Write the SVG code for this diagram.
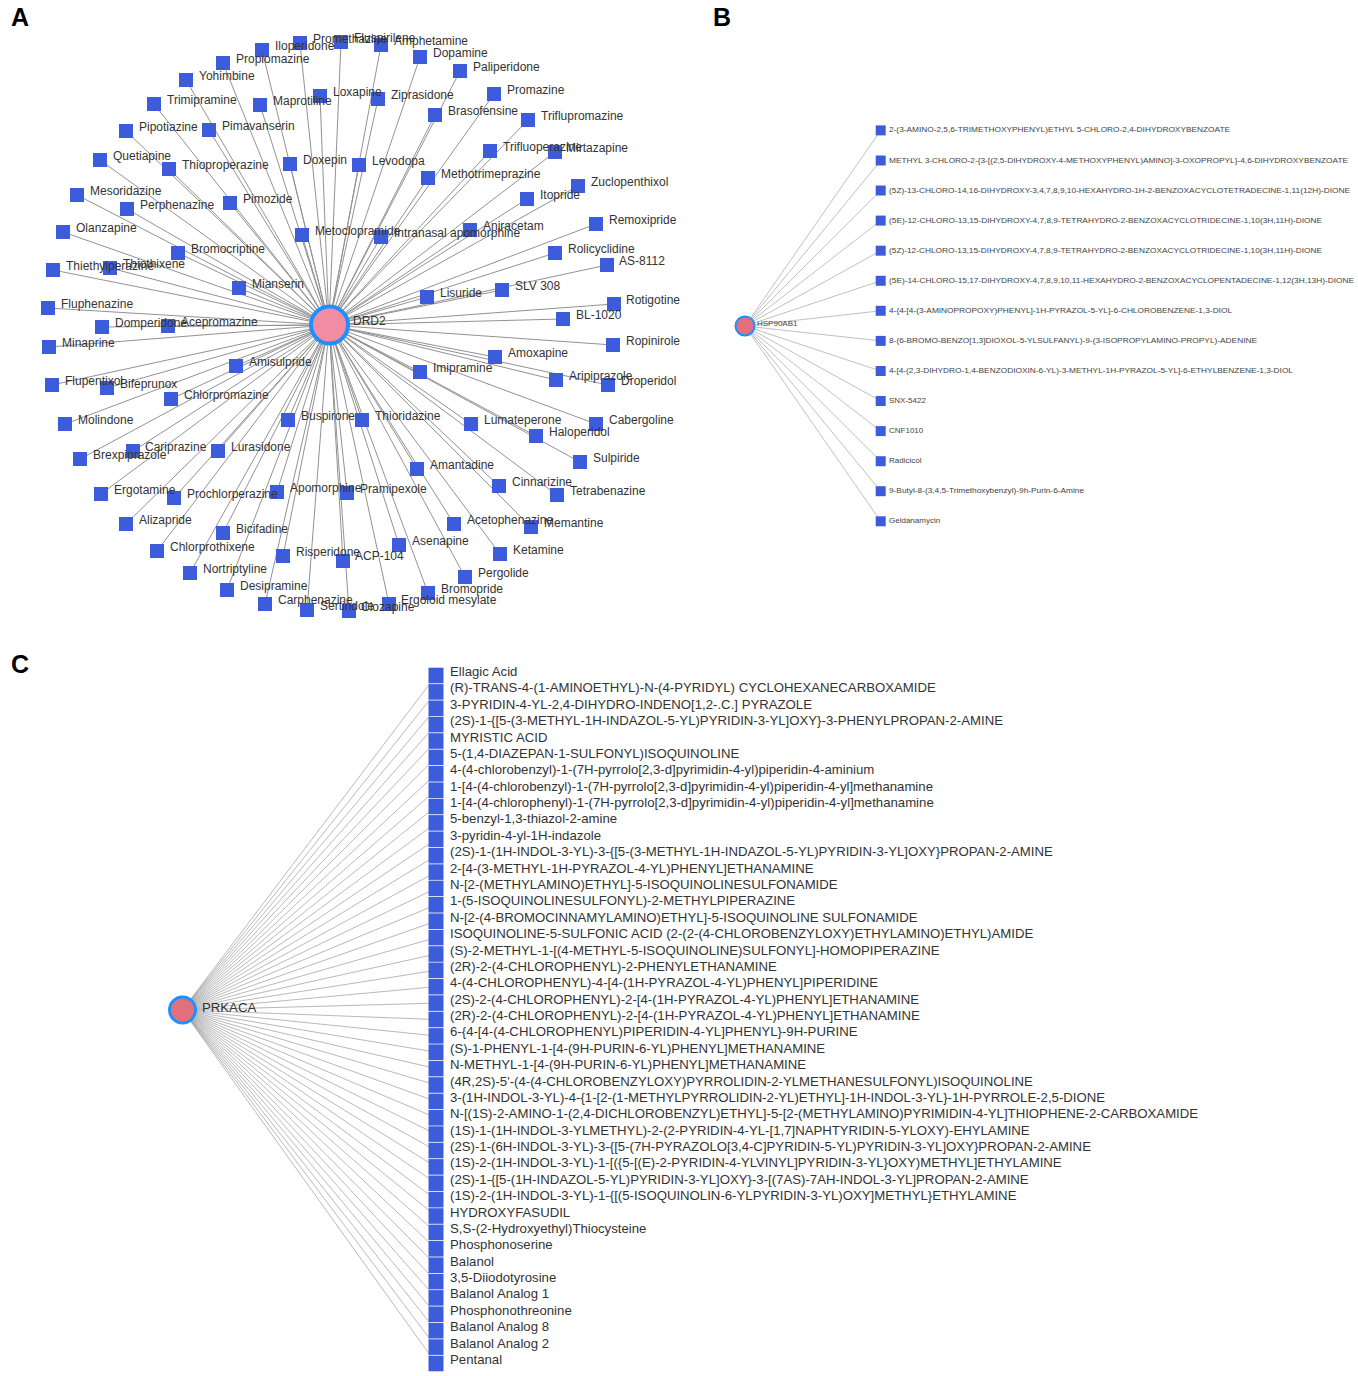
<svg xmlns="http://www.w3.org/2000/svg" width="1358" height="1376" viewBox="0 0 1358 1376">
<style>
text{font-family:"Liberation Sans",Arial,sans-serif;}
.pl{font-size:25px;font-weight:bold;fill:#000;}
.sq{fill:#3d5cdb;}
.la{font-size:12px;fill:#333;transform:translateY(-1.5px);}
.lb{font-size:8px;fill:#444;}
.lc{font-size:13.2px;fill:#333;}
.ea line{stroke:#929292;stroke-width:1;}
.eb line{stroke:#b0b0b0;stroke-width:0.8;}
.ec line{stroke:#8a8a8a;stroke-width:0.6;}
.hub1{fill:#f28ca2;stroke:#1e8fff;stroke-width:4;}
.hub2{fill:#e2707b;stroke:#1e8fff;stroke-width:2;}
.hub3{fill:#e2707b;stroke:#1e8fff;stroke-width:3;}
</style>
<rect width="1358" height="1376" fill="#fff"/>
<text class="pl" x="11" y="26">A</text>
<text class="pl" x="713" y="26">B</text>
<text class="pl" x="11" y="673">C</text>

<g id="connectors">
<g class="ea">
<line x1="329" y1="325" x2="262" y2="50"/><line x1="329" y1="325" x2="300" y2="43"/><line x1="329" y1="325" x2="341" y2="42"/><line x1="329" y1="325" x2="381" y2="45"/><line x1="329" y1="325" x2="420" y2="57"/><line x1="329" y1="325" x2="460" y2="71"/><line x1="329" y1="325" x2="494" y2="94"/><line x1="329" y1="325" x2="528" y2="120"/><line x1="329" y1="325" x2="435" y2="115"/><line x1="329" y1="325" x2="378" y2="99"/><line x1="329" y1="325" x2="320" y2="96"/><line x1="329" y1="325" x2="260" y2="105"/><line x1="329" y1="325" x2="223" y2="63"/><line x1="329" y1="325" x2="186" y2="80"/><line x1="329" y1="325" x2="154" y2="104"/><line x1="329" y1="325" x2="126" y2="131"/><line x1="329" y1="325" x2="209" y2="130"/><line x1="329" y1="325" x2="100" y2="160"/><line x1="329" y1="325" x2="169" y2="169"/><line x1="329" y1="325" x2="290" y2="164"/><line x1="329" y1="325" x2="359" y2="165"/><line x1="329" y1="325" x2="77" y2="195"/><line x1="329" y1="325" x2="127" y2="209"/><line x1="329" y1="325" x2="230" y2="203"/><line x1="329" y1="325" x2="490" y2="151"/><line x1="329" y1="325" x2="555" y2="152"/><line x1="329" y1="325" x2="428" y2="178"/><line x1="329" y1="325" x2="578" y2="186"/><line x1="329" y1="325" x2="527" y2="199"/><line x1="329" y1="325" x2="596" y2="224"/><line x1="329" y1="325" x2="63" y2="232"/><line x1="329" y1="325" x2="302" y2="235"/><line x1="329" y1="325" x2="178" y2="253"/><line x1="329" y1="325" x2="53" y2="270"/><line x1="329" y1="325" x2="110" y2="268"/><line x1="329" y1="325" x2="239" y2="288"/><line x1="329" y1="325" x2="48" y2="308"/><line x1="329" y1="325" x2="102" y2="327"/><line x1="329" y1="325" x2="168" y2="326"/><line x1="329" y1="325" x2="49" y2="347"/><line x1="329" y1="325" x2="236" y2="366"/><line x1="329" y1="325" x2="52" y2="385"/><line x1="329" y1="325" x2="107" y2="388"/><line x1="329" y1="325" x2="171" y2="399"/><line x1="329" y1="325" x2="65" y2="424"/><line x1="329" y1="325" x2="288" y2="420"/><line x1="329" y1="325" x2="362" y2="420"/><line x1="329" y1="325" x2="381" y2="237"/><line x1="329" y1="325" x2="470" y2="230"/><line x1="329" y1="325" x2="555" y2="253"/><line x1="329" y1="325" x2="607" y2="265"/><line x1="329" y1="325" x2="502" y2="290"/><line x1="329" y1="325" x2="427" y2="297"/><line x1="329" y1="325" x2="614" y2="304"/><line x1="329" y1="325" x2="563" y2="319"/><line x1="329" y1="325" x2="613" y2="345"/><line x1="329" y1="325" x2="495" y2="357"/><line x1="329" y1="325" x2="420" y2="372"/><line x1="329" y1="325" x2="556" y2="380"/><line x1="329" y1="325" x2="608" y2="385"/><line x1="329" y1="325" x2="471" y2="424"/><line x1="329" y1="325" x2="596" y2="424"/><line x1="329" y1="325" x2="536" y2="436"/><line x1="329" y1="325" x2="580" y2="462"/><line x1="329" y1="325" x2="417" y2="469"/><line x1="329" y1="325" x2="499" y2="486"/><line x1="329" y1="325" x2="557" y2="495"/><line x1="329" y1="325" x2="454" y2="524"/><line x1="329" y1="325" x2="531" y2="527"/><line x1="329" y1="325" x2="399" y2="545"/><line x1="329" y1="325" x2="343" y2="561"/><line x1="329" y1="325" x2="500" y2="554"/><line x1="329" y1="325" x2="465" y2="577"/><line x1="329" y1="325" x2="428" y2="593"/><line x1="329" y1="325" x2="389" y2="604"/><line x1="329" y1="325" x2="349" y2="611"/><line x1="329" y1="325" x2="133" y2="451"/><line x1="329" y1="325" x2="218" y2="451"/><line x1="329" y1="325" x2="80" y2="459"/><line x1="329" y1="325" x2="101" y2="494"/><line x1="329" y1="325" x2="174" y2="498"/><line x1="329" y1="325" x2="277" y2="492"/><line x1="329" y1="325" x2="347" y2="493"/><line x1="329" y1="325" x2="126" y2="524"/><line x1="329" y1="325" x2="223" y2="533"/><line x1="329" y1="325" x2="157" y2="551"/><line x1="329" y1="325" x2="283" y2="556"/><line x1="329" y1="325" x2="190" y2="573"/><line x1="329" y1="325" x2="227" y2="590"/><line x1="329" y1="325" x2="265" y2="604"/><line x1="329" y1="325" x2="307" y2="610"/>
</g>
<g class="eb">
<line x1="745" y1="326" x2="880.7" y2="130.4"/><line x1="745" y1="326" x2="880.7" y2="160.5"/><line x1="745" y1="326" x2="880.7" y2="190.5"/><line x1="745" y1="326" x2="880.7" y2="220.6"/><line x1="745" y1="326" x2="880.7" y2="250.7"/><line x1="745" y1="326" x2="880.7" y2="280.8"/><line x1="745" y1="326" x2="880.7" y2="310.8"/><line x1="745" y1="326" x2="880.7" y2="340.9"/><line x1="745" y1="326" x2="880.7" y2="371"/><line x1="745" y1="326" x2="880.7" y2="401"/><line x1="745" y1="326" x2="880.7" y2="431.1"/><line x1="745" y1="326" x2="880.7" y2="461.2"/><line x1="745" y1="326" x2="880.7" y2="491.2"/><line x1="745" y1="326" x2="880.7" y2="521.3"/>
</g>
<g class="ec">
<line x1="182.5" y1="1010" x2="436" y2="675.5"/><line x1="182.5" y1="1010" x2="436" y2="691.9"/><line x1="182.5" y1="1010" x2="436" y2="708.3"/><line x1="182.5" y1="1010" x2="436" y2="724.6"/><line x1="182.5" y1="1010" x2="436" y2="741"/><line x1="182.5" y1="1010" x2="436" y2="757.4"/><line x1="182.5" y1="1010" x2="436" y2="773.8"/><line x1="182.5" y1="1010" x2="436" y2="790.2"/><line x1="182.5" y1="1010" x2="436" y2="806.5"/><line x1="182.5" y1="1010" x2="436" y2="822.9"/><line x1="182.5" y1="1010" x2="436" y2="839.3"/><line x1="182.5" y1="1010" x2="436" y2="855.7"/><line x1="182.5" y1="1010" x2="436" y2="872.1"/><line x1="182.5" y1="1010" x2="436" y2="888.4"/><line x1="182.5" y1="1010" x2="436" y2="904.8"/><line x1="182.5" y1="1010" x2="436" y2="921.2"/><line x1="182.5" y1="1010" x2="436" y2="937.6"/><line x1="182.5" y1="1010" x2="436" y2="954"/><line x1="182.5" y1="1010" x2="436" y2="970.3"/><line x1="182.5" y1="1010" x2="436" y2="986.7"/><line x1="182.5" y1="1010" x2="436" y2="1003.1"/><line x1="182.5" y1="1010" x2="436" y2="1019.5"/><line x1="182.5" y1="1010" x2="436" y2="1035.9"/><line x1="182.5" y1="1010" x2="436" y2="1052.2"/><line x1="182.5" y1="1010" x2="436" y2="1068.6"/><line x1="182.5" y1="1010" x2="436" y2="1085"/><line x1="182.5" y1="1010" x2="436" y2="1101.4"/><line x1="182.5" y1="1010" x2="436" y2="1117.8"/><line x1="182.5" y1="1010" x2="436" y2="1134.1"/><line x1="182.5" y1="1010" x2="436" y2="1150.5"/><line x1="182.5" y1="1010" x2="436" y2="1166.9"/><line x1="182.5" y1="1010" x2="436" y2="1183.3"/><line x1="182.5" y1="1010" x2="436" y2="1199.7"/><line x1="182.5" y1="1010" x2="436" y2="1216"/><line x1="182.5" y1="1010" x2="436" y2="1232.4"/><line x1="182.5" y1="1010" x2="436" y2="1248.8"/><line x1="182.5" y1="1010" x2="436" y2="1265.2"/><line x1="182.5" y1="1010" x2="436" y2="1281.6"/><line x1="182.5" y1="1010" x2="436" y2="1297.9"/><line x1="182.5" y1="1010" x2="436" y2="1314.3"/><line x1="182.5" y1="1010" x2="436" y2="1330.7"/><line x1="182.5" y1="1010" x2="436" y2="1347.1"/><line x1="182.5" y1="1010" x2="436" y2="1363.5"/>
</g>
</g>

<g id="panelA">
<g id="a-rotigotine"><rect class="sq" x="607" y="297" width="14" height="14"/><text class="la" x="626" y="305.5">Rotigotine</text></g>
<g id="a-ropinirole"><rect class="sq" x="606" y="338" width="14" height="14"/><text class="la" x="626" y="346.5">Ropinirole</text></g>
<g id="a-droperidol"><rect class="sq" x="601" y="378" width="14" height="14"/><text class="la" x="621" y="386.5">Droperidol</text></g>
<g id="a-as-8112"><rect class="sq" x="600" y="258" width="14" height="14"/><text class="la" x="619" y="266.5">AS-8112</text></g>
<g id="a-remoxipride"><rect class="sq" x="589" y="217" width="14" height="14"/><text class="la" x="609" y="225.5">Remoxipride</text></g>
<g id="a-cabergoline"><rect class="sq" x="589" y="417" width="14" height="14"/><text class="la" x="609" y="425.5">Cabergoline</text></g>
<g id="a-sulpiride"><rect class="sq" x="573" y="455" width="14" height="14"/><text class="la" x="593" y="463.5">Sulpiride</text></g>
<g id="a-zuclopenthixol"><rect class="sq" x="571" y="179" width="14" height="14"/><text class="la" x="591" y="187.5">Zuclopenthixol</text></g>
<g id="a-bl-1020"><rect class="sq" x="556" y="312" width="14" height="14"/><text class="la" x="576" y="320.5">BL-1020</text></g>
<g id="a-tetrabenazine"><rect class="sq" x="550" y="488" width="14" height="14"/><text class="la" x="570" y="496.5">Tetrabenazine</text></g>
<g id="a-aripiprazole"><rect class="sq" x="549" y="373" width="14" height="14"/><text class="la" x="569" y="381.5">Aripiprazole</text></g>
<g id="a-mirtazapine"><rect class="sq" x="548" y="145" width="14" height="14"/><text class="la" x="566" y="153.5">Mirtazapine</text></g>
<g id="a-rolicyclidine"><rect class="sq" x="548" y="246" width="14" height="14"/><text class="la" x="568" y="254.5">Rolicyclidine</text></g>
<g id="a-haloperidol"><rect class="sq" x="529" y="429" width="14" height="14"/><text class="la" x="549" y="437.5">Haloperidol</text></g>
<g id="a-memantine"><rect class="sq" x="524" y="520" width="14" height="14"/><text class="la" x="544" y="528.5">Memantine</text></g>
<g id="a-triflupromazine"><rect class="sq" x="521" y="113" width="14" height="14"/><text class="la" x="541" y="121.5">Triflupromazine</text></g>
<g id="a-itopride"><rect class="sq" x="520" y="192" width="14" height="14"/><text class="la" x="540" y="200.5">Itopride</text></g>
<g id="a-slv-308"><rect class="sq" x="495" y="283" width="14" height="14"/><text class="la" x="515" y="291.5">SLV 308</text></g>
<g id="a-ketamine"><rect class="sq" x="493" y="547" width="14" height="14"/><text class="la" x="513" y="555.5">Ketamine</text></g>
<g id="a-cinnarizine"><rect class="sq" x="492" y="479" width="14" height="14"/><text class="la" x="512" y="487.5">Cinnarizine</text></g>
<g id="a-amoxapine"><rect class="sq" x="488" y="350" width="14" height="14"/><text class="la" x="508" y="358.5">Amoxapine</text></g>
<g id="a-promazine"><rect class="sq" x="487" y="87" width="14" height="14"/><text class="la" x="507" y="95.5">Promazine</text></g>
<g id="a-trifluoperazine"><rect class="sq" x="483" y="144" width="14" height="14"/><text class="la" x="503" y="152.5">Trifluoperazine</text></g>
<g id="a-lumateperone"><rect class="sq" x="464" y="417" width="14" height="14"/><text class="la" x="484" y="425.5">Lumateperone</text></g>
<g id="a-aniracetam"><rect class="sq" x="463" y="223" width="14" height="14"/><text class="la" x="483" y="231.5">Aniracetam</text></g>
<g id="a-pergolide"><rect class="sq" x="458" y="570" width="14" height="14"/><text class="la" x="478" y="578.5">Pergolide</text></g>
<g id="a-paliperidone"><rect class="sq" x="453" y="64" width="14" height="14"/><text class="la" x="473" y="72.5">Paliperidone</text></g>
<g id="a-acetophenazine"><rect class="sq" x="447" y="517" width="14" height="14"/><text class="la" x="467" y="525.5">Acetophenazine</text></g>
<g id="a-brasofensine"><rect class="sq" x="428" y="108" width="14" height="14"/><text class="la" x="448" y="116.5">Brasofensine</text></g>
<g id="a-methotrimeprazine"><rect class="sq" x="421" y="171" width="14" height="14"/><text class="la" x="441" y="179.5">Methotrimeprazine</text></g>
<g id="a-bromopride"><rect class="sq" x="421" y="586" width="14" height="14"/><text class="la" x="441" y="594.5">Bromopride</text></g>
<g id="a-lisuride"><rect class="sq" x="420" y="290" width="14" height="14"/><text class="la" x="440" y="298.5">Lisuride</text></g>
<g id="a-dopamine"><rect class="sq" x="413" y="50" width="14" height="14"/><text class="la" x="433" y="58.5">Dopamine</text></g>
<g id="a-imipramine"><rect class="sq" x="413" y="365" width="14" height="14"/><text class="la" x="433" y="373.5">Imipramine</text></g>
<g id="a-amantadine"><rect class="sq" x="410" y="462" width="14" height="14"/><text class="la" x="430" y="470.5">Amantadine</text></g>
<g id="a-asenapine"><rect class="sq" x="392" y="538" width="14" height="14"/><text class="la" x="412" y="546.5">Asenapine</text></g>
<g id="a-ergoloid-mesylate"><rect class="sq" x="382" y="597" width="14" height="14"/><text class="la" x="401" y="605.5">Ergoloid mesylate</text></g>
<g id="a-amphetamine"><rect class="sq" x="374" y="38" width="14" height="14"/><text class="la" x="394" y="46.5">Amphetamine</text></g>
<g id="a-intranasal-apomorphine"><rect class="sq" x="374" y="230" width="14" height="14"/><text class="la" x="394" y="238.5">Intranasal apomorphine</text></g>
<g id="a-ziprasidone"><rect class="sq" x="371" y="92" width="14" height="14"/><text class="la" x="391" y="100.5">Ziprasidone</text></g>
<g id="a-thioridazine"><rect class="sq" x="355" y="413" width="14" height="14"/><text class="la" x="375" y="421.5">Thioridazine</text></g>
<g id="a-levodopa"><rect class="sq" x="352" y="158" width="14" height="14"/><text class="la" x="372" y="166.5">Levodopa</text></g>
<g id="a-clozapine"><rect class="sq" x="342" y="604" width="14" height="14"/><text class="la" x="361" y="612.5">Clozapine</text></g>
<g id="a-pramipexole"><rect class="sq" x="340" y="486" width="14" height="14"/><text class="la" x="360" y="494.5">Pramipexole</text></g>
<g id="a-acp-104"><rect class="sq" x="336" y="554" width="14" height="14"/><text class="la" x="355" y="561">ACP-104</text></g>
<g id="a-fluspirilene"><rect class="sq" x="334" y="35" width="14" height="14"/><text class="la" x="354" y="43.5">Fluspirilene</text></g>
<g id="a-drd2"><circle class="hub1" cx="329.5" cy="325" r="18.5"/><text class="la" x="353" y="326.5">DRD2</text></g>
<g id="a-loxapine"><rect class="sq" x="313" y="89" width="14" height="14"/><text class="la" x="333" y="97.5">Loxapine</text></g>
<g id="a-sertindole"><rect class="sq" x="300" y="603" width="14" height="14"/><text class="la" x="320" y="611.5">Sertindole</text></g>
<g id="a-metoclopramide"><rect class="sq" x="295" y="228" width="14" height="14"/><text class="la" x="315" y="236.5">Metoclopramide</text></g>
<g id="a-promethazine"><rect class="sq" x="293" y="36" width="14" height="14"/><text class="la" x="313" y="44.5">Promethazine</text></g>
<g id="a-doxepin"><rect class="sq" x="283" y="157" width="14" height="14"/><text class="la" x="303" y="165.5">Doxepin</text></g>
<g id="a-buspirone"><rect class="sq" x="281" y="413" width="14" height="14"/><text class="la" x="301" y="421.5">Buspirone</text></g>
<g id="a-risperidone"><rect class="sq" x="276" y="549" width="14" height="14"/><text class="la" x="296" y="557.5">Risperidone</text></g>
<g id="a-apomorphine"><rect class="sq" x="270" y="485" width="14" height="14"/><text class="la" x="290" y="493.5">Apomorphine</text></g>
<g id="a-carphenazine"><rect class="sq" x="258" y="597" width="14" height="14"/><text class="la" x="278" y="605.5">Carphenazine</text></g>
<g id="a-iloperidone"><rect class="sq" x="255" y="43" width="14" height="14"/><text class="la" x="275" y="51.5">Iloperidone</text></g>
<g id="a-maprotiline"><rect class="sq" x="253" y="98" width="14" height="14"/><text class="la" x="273" y="106.5">Maprotiline</text></g>
<g id="a-mianserin"><rect class="sq" x="232" y="281" width="14" height="14"/><text class="la" x="252" y="289.5">Mianserin</text></g>
<g id="a-amisulpride"><rect class="sq" x="229" y="359" width="14" height="14"/><text class="la" x="249" y="367.5">Amisulpride</text></g>
<g id="a-pimozide"><rect class="sq" x="223" y="196" width="14" height="14"/><text class="la" x="243" y="204.5">Pimozide</text></g>
<g id="a-desipramine"><rect class="sq" x="220" y="583" width="14" height="14"/><text class="la" x="240" y="591.5">Desipramine</text></g>
<g id="a-propiomazine"><rect class="sq" x="216" y="56" width="14" height="14"/><text class="la" x="236" y="64.5">Propiomazine</text></g>
<g id="a-bicifadine"><rect class="sq" x="216" y="526" width="14" height="14"/><text class="la" x="236" y="534.5">Bicifadine</text></g>
<g id="a-lurasidone"><rect class="sq" x="211" y="444" width="14" height="14"/><text class="la" x="231" y="452.5">Lurasidone</text></g>
<g id="a-pimavanserin"><rect class="sq" x="202" y="123" width="14" height="14"/><text class="la" x="222" y="131.5">Pimavanserin</text></g>
<g id="a-nortriptyline"><rect class="sq" x="183" y="566" width="14" height="14"/><text class="la" x="203" y="574.5">Nortriptyline</text></g>
<g id="a-yohimbine"><rect class="sq" x="179" y="73" width="14" height="14"/><text class="la" x="199" y="81.5">Yohimbine</text></g>
<g id="a-bromocriptine"><rect class="sq" x="171" y="246" width="14" height="14"/><text class="la" x="191" y="254.5">Bromocriptine</text></g>
<g id="a-prochlorperazine"><rect class="sq" x="167" y="491" width="14" height="14"/><text class="la" x="187" y="499.5">Prochlorperazine</text></g>
<g id="a-chlorpromazine"><rect class="sq" x="164" y="392" width="14" height="14"/><text class="la" x="184" y="400.5">Chlorpromazine</text></g>
<g id="a-thioproperazine"><rect class="sq" x="162" y="162" width="14" height="14"/><text class="la" x="182" y="170.5">Thioproperazine</text></g>
<g id="a-acepromazine"><rect class="sq" x="161" y="319" width="14" height="14"/><text class="la" x="181" y="327.5">Acepromazine</text></g>
<g id="a-chlorprothixene"><rect class="sq" x="150" y="544" width="14" height="14"/><text class="la" x="170" y="552.5">Chlorprothixene</text></g>
<g id="a-trimipramine"><rect class="sq" x="147" y="97" width="14" height="14"/><text class="la" x="167" y="105.5">Trimipramine</text></g>
<g id="a-cariprazine"><rect class="sq" x="126" y="444" width="14" height="14"/><text class="la" x="145" y="452.5">Cariprazine</text></g>
<g id="a-perphenazine"><rect class="sq" x="120" y="202" width="14" height="14"/><text class="la" x="140" y="210.5">Perphenazine</text></g>
<g id="a-pipotiazine"><rect class="sq" x="119" y="124" width="14" height="14"/><text class="la" x="139" y="132.5">Pipotiazine</text></g>
<g id="a-alizapride"><rect class="sq" x="119" y="517" width="14" height="14"/><text class="la" x="139" y="525.5">Alizapride</text></g>
<g id="a-thiothixene"><rect class="sq" x="103" y="261" width="14" height="14"/><text class="la" x="123" y="269.5">Thiothixene</text></g>
<g id="a-bifeprunox"><rect class="sq" x="100" y="381" width="14" height="14"/><text class="la" x="120" y="389.5">Bifeprunox</text></g>
<g id="a-domperidone"><rect class="sq" x="95" y="320" width="14" height="14"/><text class="la" x="115" y="328.5">Domperidone</text></g>
<g id="a-ergotamine"><rect class="sq" x="94" y="487" width="14" height="14"/><text class="la" x="114" y="495.5">Ergotamine</text></g>
<g id="a-quetiapine"><rect class="sq" x="93" y="153" width="14" height="14"/><text class="la" x="113" y="161.5">Quetiapine</text></g>
<g id="a-brexpiprazole"><rect class="sq" x="73" y="452" width="14" height="14"/><text class="la" x="93" y="460.5">Brexpiprazole</text></g>
<g id="a-mesoridazine"><rect class="sq" x="70" y="188" width="14" height="14"/><text class="la" x="90" y="196.5">Mesoridazine</text></g>
<g id="a-molindone"><rect class="sq" x="58" y="417" width="14" height="14"/><text class="la" x="78" y="425.5">Molindone</text></g>
<g id="a-olanzapine"><rect class="sq" x="56" y="225" width="14" height="14"/><text class="la" x="76" y="233.5">Olanzapine</text></g>
<g id="a-thiethylperazine"><rect class="sq" x="46" y="263" width="14" height="14"/><text class="la" x="66" y="271.5">Thiethylperazine</text></g>
<g id="a-flupentixol"><rect class="sq" x="45" y="378" width="14" height="14"/><text class="la" x="65" y="386.5">Flupentixol</text></g>
<g id="a-minaprine"><rect class="sq" x="42" y="340" width="14" height="14"/><text class="la" x="62" y="348.5">Minaprine</text></g>
<g id="a-fluphenazine"><rect class="sq" x="41" y="301" width="14" height="14"/><text class="la" x="61" y="309.5">Fluphenazine</text></g>
</g>

<g id="panelB">
<g id="b-hsp90ab1"><circle class="hub2" cx="745" cy="326" r="9.5"/><text class="lb" x="757" y="326">HSP90AB1</text></g>
<g id="b-1"><rect class="sq" x="875.7" y="125.4" width="10" height="10"/><text class="lb" x="889" y="132.4" textLength="341" lengthAdjust="spacingAndGlyphs">2-(3-AMINO-2,5,6-TRIMETHOXYPHENYL)ETHYL 5-CHLORO-2,4-DIHYDROXYBENZOATE</text></g>
<g id="b-2"><rect class="sq" x="875.7" y="155.5" width="10" height="10"/><text class="lb" x="889" y="162.5" textLength="459" lengthAdjust="spacingAndGlyphs">METHYL 3-CHLORO-2-{3-[(2,5-DIHYDROXY-4-METHOXYPHENYL)AMINO]-3-OXOPROPYL}-4,6-DIHYDROXYBENZOATE</text></g>
<g id="b-3"><rect class="sq" x="875.7" y="185.5" width="10" height="10"/><text class="lb" x="889" y="192.5" textLength="461" lengthAdjust="spacingAndGlyphs">(5Z)-13-CHLORO-14,16-DIHYDROXY-3,4,7,8,9,10-HEXAHYDRO-1H-2-BENZOXACYCLOTETRADECINE-1,11(12H)-DIONE</text></g>
<g id="b-4"><rect class="sq" x="875.7" y="215.6" width="10" height="10"/><text class="lb" x="889" y="222.6" textLength="433" lengthAdjust="spacingAndGlyphs">(5E)-12-CHLORO-13,15-DIHYDROXY-4,7,8,9-TETRAHYDRO-2-BENZOXACYCLOTRIDECINE-1,10(3H,11H)-DIONE</text></g>
<g id="b-5"><rect class="sq" x="875.7" y="245.7" width="10" height="10"/><text class="lb" x="889" y="252.7" textLength="433" lengthAdjust="spacingAndGlyphs">(5Z)-12-CHLORO-13,15-DIHYDROXY-4,7,8,9-TETRAHYDRO-2-BENZOXACYCLOTRIDECINE-1,10(3H,11H)-DIONE</text></g>
<g id="b-6"><rect class="sq" x="875.7" y="275.8" width="10" height="10"/><text class="lb" x="889" y="282.8" textLength="465" lengthAdjust="spacingAndGlyphs">(5E)-14-CHLORO-15,17-DIHYDROXY-4,7,8,9,10,11-HEXAHYDRO-2-BENZOXACYCLOPENTADECINE-1,12(3H,13H)-DIONE</text></g>
<g id="b-7"><rect class="sq" x="875.7" y="305.8" width="10" height="10"/><text class="lb" x="889" y="312.8" textLength="343" lengthAdjust="spacingAndGlyphs">4-{4-[4-(3-AMINOPROPOXY)PHENYL]-1H-PYRAZOL-5-YL}-6-CHLOROBENZENE-1,3-DIOL</text></g>
<g id="b-8"><rect class="sq" x="875.7" y="335.9" width="10" height="10"/><text class="lb" x="889" y="342.9" textLength="368" lengthAdjust="spacingAndGlyphs">8-(6-BROMO-BENZO[1,3]DIOXOL-5-YLSULFANYL)-9-(3-ISOPROPYLAMINO-PROPYL)-ADENINE</text></g>
<g id="b-9"><rect class="sq" x="875.7" y="366" width="10" height="10"/><text class="lb" x="889" y="373" textLength="404" lengthAdjust="spacingAndGlyphs">4-[4-(2,3-DIHYDRO-1,4-BENZODIOXIN-6-YL)-3-METHYL-1H-PYRAZOL-5-YL]-6-ETHYLBENZENE-1,3-DIOL</text></g>
<g id="b-10"><rect class="sq" x="875.7" y="396" width="10" height="10"/><text class="lb" x="889" y="403">SNX-5422</text></g>
<g id="b-11"><rect class="sq" x="875.7" y="426.1" width="10" height="10"/><text class="lb" x="889" y="433.1">CNF1010</text></g>
<g id="b-12"><rect class="sq" x="875.7" y="456.2" width="10" height="10"/><text class="lb" x="889" y="463.2">Radicicol</text></g>
<g id="b-13"><rect class="sq" x="875.7" y="486.2" width="10" height="10"/><text class="lb" x="889" y="493.2" textLength="195" lengthAdjust="spacingAndGlyphs">9-Butyl-8-(3,4,5-Trimethoxybenzyl)-9h-Purin-6-Amine</text></g>
<g id="b-14"><rect class="sq" x="875.7" y="516.3" width="10" height="10"/><text class="lb" x="889" y="523.3">Geldanamycin</text></g>
</g>

<g id="panelC">
<g id="c-prkaca"><circle class="hub3" cx="182.5" cy="1010" r="13"/><text class="lc" x="202" y="1011.5">PRKACA</text></g>
<g id="c-1"><rect class="sq" x="428.5" y="667.7" width="15" height="15.6"/><text class="lc" x="450" y="676">Ellagic Acid</text></g>
<g id="c-2"><rect class="sq" x="428.5" y="684.1" width="15" height="15.6"/><text class="lc" x="450" y="692.4">(R)-TRANS-4-(1-AMINOETHYL)-N-(4-PYRIDYL) CYCLOHEXANECARBOXAMIDE</text></g>
<g id="c-3"><rect class="sq" x="428.5" y="700.5" width="15" height="15.6"/><text class="lc" x="450" y="708.8">3-PYRIDIN-4-YL-2,4-DIHYDRO-INDENO[1,2-.C.] PYRAZOLE</text></g>
<g id="c-4"><rect class="sq" x="428.5" y="716.8" width="15" height="15.6"/><text class="lc" x="450" y="725.1">(2S)-1-{[5-(3-METHYL-1H-INDAZOL-5-YL)PYRIDIN-3-YL]OXY}-3-PHENYLPROPAN-2-AMINE</text></g>
<g id="c-5"><rect class="sq" x="428.5" y="733.2" width="15" height="15.6"/><text class="lc" x="450" y="741.5">MYRISTIC ACID</text></g>
<g id="c-6"><rect class="sq" x="428.5" y="749.6" width="15" height="15.6"/><text class="lc" x="450" y="757.9">5-(1,4-DIAZEPAN-1-SULFONYL)ISOQUINOLINE</text></g>
<g id="c-7"><rect class="sq" x="428.5" y="766" width="15" height="15.6"/><text class="lc" x="450" y="774.3">4-(4-chlorobenzyl)-1-(7H-pyrrolo[2,3-d]pyrimidin-4-yl)piperidin-4-aminium</text></g>
<g id="c-8"><rect class="sq" x="428.5" y="782.4" width="15" height="15.6"/><text class="lc" x="450" y="790.7">1-[4-(4-chlorobenzyl)-1-(7H-pyrrolo[2,3-d]pyrimidin-4-yl)piperidin-4-yl]methanamine</text></g>
<g id="c-9"><rect class="sq" x="428.5" y="798.7" width="15" height="15.6"/><text class="lc" x="450" y="807">1-[4-(4-chlorophenyl)-1-(7H-pyrrolo[2,3-d]pyrimidin-4-yl)piperidin-4-yl]methanamine</text></g>
<g id="c-10"><rect class="sq" x="428.5" y="815.1" width="15" height="15.6"/><text class="lc" x="450" y="823.4">5-benzyl-1,3-thiazol-2-amine</text></g>
<g id="c-11"><rect class="sq" x="428.5" y="831.5" width="15" height="15.6"/><text class="lc" x="450" y="839.8">3-pyridin-4-yl-1H-indazole</text></g>
<g id="c-12"><rect class="sq" x="428.5" y="847.9" width="15" height="15.6"/><text class="lc" x="450" y="856.2">(2S)-1-(1H-INDOL-3-YL)-3-{[5-(3-METHYL-1H-INDAZOL-5-YL)PYRIDIN-3-YL]OXY}PROPAN-2-AMINE</text></g>
<g id="c-13"><rect class="sq" x="428.5" y="864.3" width="15" height="15.6"/><text class="lc" x="450" y="872.6">2-[4-(3-METHYL-1H-PYRAZOL-4-YL)PHENYL]ETHANAMINE</text></g>
<g id="c-14"><rect class="sq" x="428.5" y="880.6" width="15" height="15.6"/><text class="lc" x="450" y="888.9">N-[2-(METHYLAMINO)ETHYL]-5-ISOQUINOLINESULFONAMIDE</text></g>
<g id="c-15"><rect class="sq" x="428.5" y="897" width="15" height="15.6"/><text class="lc" x="450" y="905.3">1-(5-ISOQUINOLINESULFONYL)-2-METHYLPIPERAZINE</text></g>
<g id="c-16"><rect class="sq" x="428.5" y="913.4" width="15" height="15.6"/><text class="lc" x="450" y="921.7">N-[2-(4-BROMOCINNAMYLAMINO)ETHYL]-5-ISOQUINOLINE SULFONAMIDE</text></g>
<g id="c-17"><rect class="sq" x="428.5" y="929.8" width="15" height="15.6"/><text class="lc" x="450" y="938.1">ISOQUINOLINE-5-SULFONIC ACID (2-(2-(4-CHLOROBENZYLOXY)ETHYLAMINO)ETHYL)AMIDE</text></g>
<g id="c-18"><rect class="sq" x="428.5" y="946.2" width="15" height="15.6"/><text class="lc" x="450" y="954.5">(S)-2-METHYL-1-[(4-METHYL-5-ISOQUINOLINE)SULFONYL]-HOMOPIPERAZINE</text></g>
<g id="c-19"><rect class="sq" x="428.5" y="962.5" width="15" height="15.6"/><text class="lc" x="450" y="970.8">(2R)-2-(4-CHLOROPHENYL)-2-PHENYLETHANAMINE</text></g>
<g id="c-20"><rect class="sq" x="428.5" y="978.9" width="15" height="15.6"/><text class="lc" x="450" y="987.2">4-(4-CHLOROPHENYL)-4-[4-(1H-PYRAZOL-4-YL)PHENYL]PIPERIDINE</text></g>
<g id="c-21"><rect class="sq" x="428.5" y="995.3" width="15" height="15.6"/><text class="lc" x="450" y="1003.6">(2S)-2-(4-CHLOROPHENYL)-2-[4-(1H-PYRAZOL-4-YL)PHENYL]ETHANAMINE</text></g>
<g id="c-22"><rect class="sq" x="428.5" y="1011.7" width="15" height="15.6"/><text class="lc" x="450" y="1020">(2R)-2-(4-CHLOROPHENYL)-2-[4-(1H-PYRAZOL-4-YL)PHENYL]ETHANAMINE</text></g>
<g id="c-23"><rect class="sq" x="428.5" y="1028.1" width="15" height="15.6"/><text class="lc" x="450" y="1036.4">6-{4-[4-(4-CHLOROPHENYL)PIPERIDIN-4-YL]PHENYL}-9H-PURINE</text></g>
<g id="c-24"><rect class="sq" x="428.5" y="1044.4" width="15" height="15.6"/><text class="lc" x="450" y="1052.7">(S)-1-PHENYL-1-[4-(9H-PURIN-6-YL)PHENYL]METHANAMINE</text></g>
<g id="c-25"><rect class="sq" x="428.5" y="1060.8" width="15" height="15.6"/><text class="lc" x="450" y="1069.1">N-METHYL-1-[4-(9H-PURIN-6-YL)PHENYL]METHANAMINE</text></g>
<g id="c-26"><rect class="sq" x="428.5" y="1077.2" width="15" height="15.6"/><text class="lc" x="450" y="1085.5">(4R,2S)-5'-(4-(4-CHLOROBENZYLOXY)PYRROLIDIN-2-YLMETHANESULFONYL)ISOQUINOLINE</text></g>
<g id="c-27"><rect class="sq" x="428.5" y="1093.6" width="15" height="15.6"/><text class="lc" x="450" y="1101.9">3-(1H-INDOL-3-YL)-4-{1-[2-(1-METHYLPYRROLIDIN-2-YL)ETHYL]-1H-INDOL-3-YL}-1H-PYRROLE-2,5-DIONE</text></g>
<g id="c-28"><rect class="sq" x="428.5" y="1110" width="15" height="15.6"/><text class="lc" x="450" y="1118.3">N-[(1S)-2-AMINO-1-(2,4-DICHLOROBENZYL)ETHYL]-5-[2-(METHYLAMINO)PYRIMIDIN-4-YL]THIOPHENE-2-CARBOXAMIDE</text></g>
<g id="c-29"><rect class="sq" x="428.5" y="1126.3" width="15" height="15.6"/><text class="lc" x="450" y="1134.6">(1S)-1-(1H-INDOL-3-YLMETHYL)-2-(2-PYRIDIN-4-YL-[1,7]NAPHTYRIDIN-5-YLOXY)-EHYLAMINE</text></g>
<g id="c-30"><rect class="sq" x="428.5" y="1142.7" width="15" height="15.6"/><text class="lc" x="450" y="1151">(2S)-1-(6H-INDOL-3-YL)-3-{[5-(7H-PYRAZOLO[3,4-C]PYRIDIN-5-YL)PYRIDIN-3-YL]OXY}PROPAN-2-AMINE</text></g>
<g id="c-31"><rect class="sq" x="428.5" y="1159.1" width="15" height="15.6"/><text class="lc" x="450" y="1167.4">(1S)-2-(1H-INDOL-3-YL)-1-[({5-[(E)-2-PYRIDIN-4-YLVINYL]PYRIDIN-3-YL}OXY)METHYL]ETHYLAMINE</text></g>
<g id="c-32"><rect class="sq" x="428.5" y="1175.5" width="15" height="15.6"/><text class="lc" x="450" y="1183.8">(2S)-1-{[5-(1H-INDAZOL-5-YL)PYRIDIN-3-YL]OXY}-3-[(7AS)-7AH-INDOL-3-YL]PROPAN-2-AMINE</text></g>
<g id="c-33"><rect class="sq" x="428.5" y="1191.9" width="15" height="15.6"/><text class="lc" x="450" y="1200.2">(1S)-2-(1H-INDOL-3-YL)-1-{[(5-ISOQUINOLIN-6-YLPYRIDIN-3-YL)OXY]METHYL}ETHYLAMINE</text></g>
<g id="c-34"><rect class="sq" x="428.5" y="1208.2" width="15" height="15.6"/><text class="lc" x="450" y="1216.5">HYDROXYFASUDIL</text></g>
<g id="c-35"><rect class="sq" x="428.5" y="1224.6" width="15" height="15.6"/><text class="lc" x="450" y="1232.9">S,S-(2-Hydroxyethyl)Thiocysteine</text></g>
<g id="c-36"><rect class="sq" x="428.5" y="1241" width="15" height="15.6"/><text class="lc" x="450" y="1249.3">Phosphonoserine</text></g>
<g id="c-37"><rect class="sq" x="428.5" y="1257.4" width="15" height="15.6"/><text class="lc" x="450" y="1265.7">Balanol</text></g>
<g id="c-38"><rect class="sq" x="428.5" y="1273.8" width="15" height="15.6"/><text class="lc" x="450" y="1282.1">3,5-Diiodotyrosine</text></g>
<g id="c-39"><rect class="sq" x="428.5" y="1290.1" width="15" height="15.6"/><text class="lc" x="450" y="1298.4">Balanol Analog 1</text></g>
<g id="c-40"><rect class="sq" x="428.5" y="1306.5" width="15" height="15.6"/><text class="lc" x="450" y="1314.8">Phosphonothreonine</text></g>
<g id="c-41"><rect class="sq" x="428.5" y="1322.9" width="15" height="15.6"/><text class="lc" x="450" y="1331.2">Balanol Analog 8</text></g>
<g id="c-42"><rect class="sq" x="428.5" y="1339.3" width="15" height="15.6"/><text class="lc" x="450" y="1347.6">Balanol Analog 2</text></g>
<g id="c-43"><rect class="sq" x="428.5" y="1355.7" width="15" height="15.6"/><text class="lc" x="450" y="1364">Pentanal</text></g>
</g>
</svg>
